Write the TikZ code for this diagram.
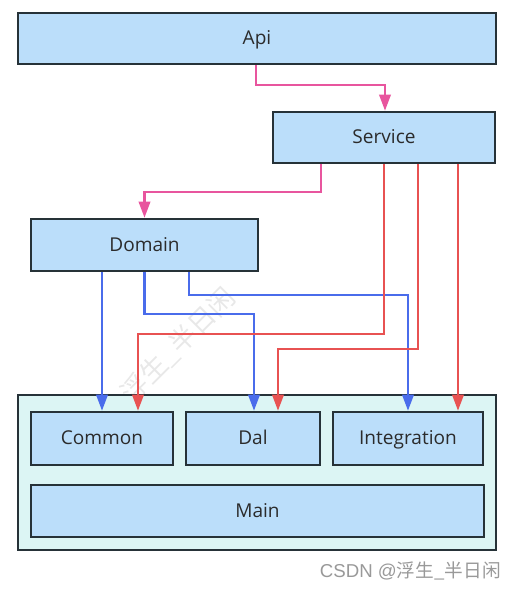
\documentclass[tikz,border=0pt]{standalone}
\usepackage{fontspec}
\setmainfont{Open Sans}
\newfontfamily\cjk{Noto Sans CJK SC}
\newfontfamily\arialish{Liberation Sans}
\usetikzlibrary{arrows.meta,calc}
\newdimen\upx \upx=0.75pt
\definecolor{boxfill}{HTML}{BBDEFA}
\definecolor{contfill}{HTML}{DCF5F4}
\definecolor{edgedark}{HTML}{263238}
\definecolor{pinkline}{HTML}{E8559E}
\definecolor{redline}{HTML}{E85252}
\definecolor{blueline}{HTML}{4A6CEB}
\definecolor{txt}{HTML}{2B2B2B}
\tikzset{
  modbox/.style={draw=edgedark, line width=1.9pt, fill=boxfill, rectangle, inner sep=0pt,
    text=txt, font=\fontsize{14.3pt}{16pt}\selectfont, text height=0.92em, text depth=0pt},
  contbox/.style={draw=edgedark, line width=1.9pt, fill=contfill, rectangle, inner sep=0pt},
  dep/.style={line width=1.8pt, -{Triangle[length=12pt,width=8.5pt]}},
  pinkdep/.style={dep, draw=pinkline},
  reddep/.style={dep, draw=redline},
  bluedep/.style={dep, draw=blueline},
}
\begin{document}
\begin{tikzpicture}[x=0.75pt, y=-0.75pt]
\useasboundingbox (0,0) rectangle (516,590);
% watermark
\node[rotate=45, text=black!9, font=\cjk\fontsize{20pt}{22pt}\selectfont] (wm) at (178,345) {浮生\_半日闲};
% nodes
\node[modbox, minimum width=478\upx, minimum height=51\upx] (api) at (257,38.5) {Api};
\node[modbox, minimum width=222\upx, minimum height=51\upx] (service) at (384,137.5) {Service};
\node[modbox, minimum width=227\upx, minimum height=52\upx] (domain) at (144.5,245) {Domain};
\node[contbox, minimum width=478\upx, minimum height=155\upx] (cont) at (257,472.5) {};
\node[modbox, minimum width=142\upx, minimum height=53\upx] (common) at (102,438.5) {Common};
\node[modbox, minimum width=134\upx, minimum height=53\upx] (dal) at (253,438.5) {Dal};
\node[modbox, minimum width=150\upx, minimum height=53\upx] (integ) at (408,438.5) {Integration};
\node[modbox, minimum width=453\upx, minimum height=52\upx] (main) at (257.5,511) {Main};
% pink
\draw[pinkdep] ([xshift=-1\upx]api.south) -- ++(0,20) -| ([xshift=1\upx]service.north);
\draw[pinkdep] ([xshift=-63\upx]service.south) -- ++(0,28) -| (domain.north);
% blue
\draw[bluedep] ([xshift=-42.5\upx]domain.south) -- (common.north);
\draw[bluedep] (domain.south) -- ++(0,42) -| ([xshift=1\upx]dal.north);
\draw[bluedep] ([xshift=44.5\upx]domain.south) -- ++(0,23) -| (integ.north);
% red
\draw[reddep] (service.south) -- ++(0,170) -| ([xshift=36\upx]common.north);
\draw[reddep] ([xshift=34\upx]service.south) -- ++(0,185) -| ([xshift=25\upx]dal.north);
\draw[reddep] ([xshift=74\upx]service.south) -- ([xshift=50\upx]integ.north);
% csdn mark
\node[anchor=east, text=black!40, font=\fontsize{14pt}{16pt}\selectfont, inner sep=0pt] (csdn) at (501,571) {{\arialish CSDN @}{\cjk 浮生\_半日闲}};
\end{tikzpicture}
\end{document}
